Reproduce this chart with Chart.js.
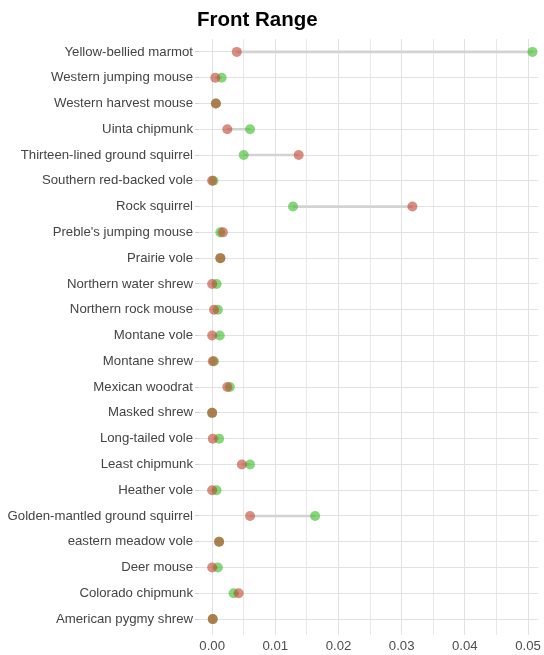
<!DOCTYPE html>
<html>
<head>
<meta charset="utf-8">
<script src="https://cdn.jsdelivr.net/npm/chart.js@4/dist/chart.umd.min.js"></script>
<style>
html,body{margin:0;padding:0;background:#fff;}
#wrap{width:544px;height:655px;position:relative;}
</style>
</head>
<body>
<div id="wrap"><canvas id="c" width="544" height="655"></canvas></div>
<script>
const title = "Front Range";
const categories = [
  "Yellow-bellied marmot","Western jumping mouse","Western harvest mouse","Uinta chipmunk",
  "Thirteen-lined ground squirrel","Southern red-backed vole","Rock squirrel","Preble's jumping mouse",
  "Prairie vole","Northern water shrew","Northern rock mouse","Montane vole","Montane shrew",
  "Mexican woodrat","Masked shrew","Long-tailed vole","Least chipmunk","Heather vole",
  "Golden-mantled ground squirrel","eastern meadow vole","Deer mouse","Colorado chipmunk",
  "American pygmy shrew"
];
const redValues = [
  0.0039,0.0005,0.0006,0.0024,
  0.0137,0.0000,0.0317,0.0017,
  0.0013,0.0000,0.0003,0.0000,0.0001,
  0.0024,0.0000,0.0001,0.0047,0.0000,
  0.0060,0.0011,0.0000,0.0042,
  0.0001
];
const greenValues = [
  0.0507,0.0015,0.0006,0.0060,
  0.0050,0.0002,0.0128,0.0013,
  0.0013,0.0007,0.0009,0.0012,0.0003,
  0.0028,0.0000,0.0011,0.0060,0.0007,
  0.0163,0.0011,0.0009,0.0034,
  0.0001
];
const xTickLabels = ["0.00","0.01","0.02","0.03","0.04","0.05"];

const segments = categories.map((c,i)=>[Math.min(redValues[i],greenValues[i]),Math.max(redValues[i],greenValues[i])]);

const titlePlugin = {
  id:'leftTitle',
  afterDraw(chart){
    const ctx = chart.ctx;
    ctx.save();
    ctx.font = 'bold 20.5px "Liberation Sans", Arial, sans-serif';
    ctx.fillStyle = '#000';
    ctx.textBaseline = 'alphabetic';
    ctx.textAlign = 'left';
    ctx.fillText(title, chart.chartArea.left - 2, 26);
    ctx.restore();
  }
};

const isMajor = v => Math.abs(Math.round(v*100) - v*100) < 1e-6;

new Chart(document.getElementById('c'), {
  type:'bar',
  data:{
    labels: categories,
    datasets:[
      {
        type:'line', label:'red', data: redValues, indexAxis:'y', showLine:false,
        pointRadius:5, pointHoverRadius:5, pointBorderWidth:0,
        pointBackgroundColor:'rgba(196,72,52,0.62)', borderColor:'rgba(196,72,52,0.62)', order:0
      },
      {
        type:'line', label:'green', data: greenValues, indexAxis:'y', showLine:false,
        pointRadius:5, pointHoverRadius:5, pointBorderWidth:0,
        pointBackgroundColor:'rgba(60,190,40,0.62)', borderColor:'rgba(60,190,40,0.62)', order:1
      },
      {
        type:'bar', label:'seg', data: segments, backgroundColor:'#d3d3d3',
        barThickness:2, borderWidth:0, order:2
      }
    ]
  },
  options:{
    indexAxis:'y',
    responsive:false,
    animation:false,
    events:[],
    layout:{padding:{top:39,right:2,left:0,bottom:0}},
    plugins:{legend:{display:false},tooltip:{enabled:false},title:{display:false}},
    scales:{
      x:{
        type:'linear', min:-0.00208, max:0.05161,
        afterFit(s){ s.height = 23; },
        border:{display:false},
        grid:{
          color:'#e2e2e2',
          lineWidth: ctx => (ctx.tick && isMajor(ctx.tick.value)) ? 1 : 0.8,
          drawTicks:true, tickLength:3, tickColor:'#e2e2e2'
        },
        ticks:{
          stepSize:0.005, includeBounds:false, autoSkip:false, maxRotation:0,
          padding:3,
          color:'#4d4d4d',
          font:{family:'"Liberation Sans", Arial, sans-serif', size:13.2},
          callback(v){
            if(!isMajor(v)) return '';
            const idx = Math.round(v*100);
            return xTickLabels[idx] !== undefined ? xTickLabels[idx] : '';
          }
        }
      },
      y:{
        type:'category',
        offset:true,
        afterFit(s){ s.width = 199; },
        border:{display:false},
        grid:{offset:false, color:'#e2e2e2', lineWidth:1, drawTicks:true, tickLength:4, tickColor:'#cfcfcf'},
        ticks:{
          color:'#444',
          padding:2,
          font:{family:'"Liberation Sans", Arial, sans-serif', size:13.2},
          autoSkip:false
        }
      }
    }
  },
  plugins:[titlePlugin]
});
</script>
</body>
</html>
